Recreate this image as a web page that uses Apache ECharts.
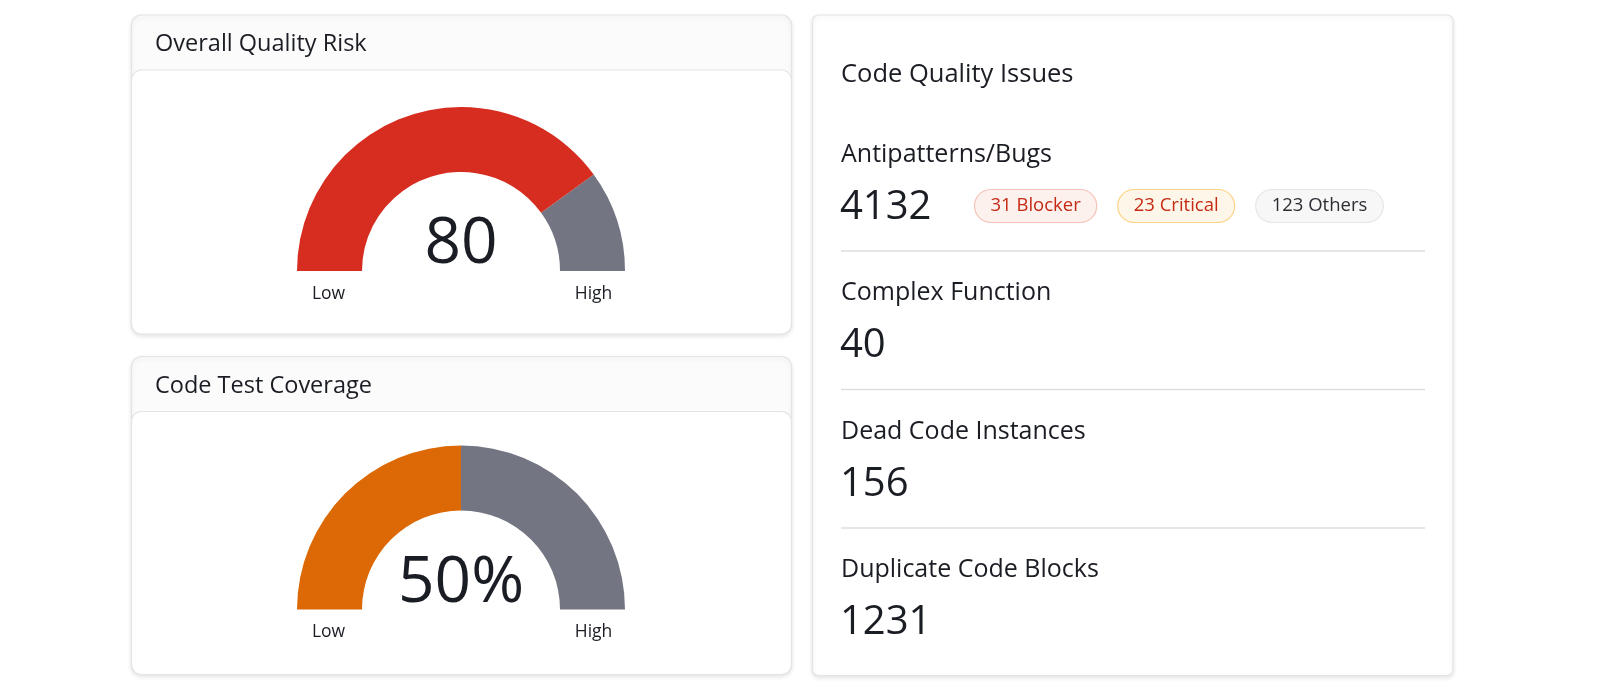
<!DOCTYPE html>
<html lang="en">
<head>
<meta charset="UTF-8" />
<title>Code Quality</title>
<script src="https://cdn.jsdelivr.net/npm/echarts@6/dist/echarts.min.js"></script>
<style>
  html, body { margin: 0; padding: 0; background: #fff; }
  #main { width: 1600px; height: 696px; }
</style>
</head>
<body>
<div id="main"></div>
<script>
// gauge cards
var gaugeTitles = ['Overall Quality Risk', 'Code Test Coverage'];
var gaugeValues = [80, 50];
var gaugeUnits = ['', '%'];
var gaugeColors = ['#d62d20', '#dc6905'];
var scaleLabels = ['Low', 'High'];

// issues card
var issuesTitle = 'Code Quality Issues';
var issueNames = ['Antipatterns/Bugs', 'Complex Function', 'Dead Code Instances', 'Duplicate Code Blocks'];
var issueCounts = [4132, 40, 156, 1231];
var severityLabels = ['Blocker', 'Critical', 'Others'];
var severityCounts = [31, 23, 123];

var FONT = '"Open Sans", Lato, sans-serif';
var TEXT = '#1b1d24';
var REST = '#737682';
var BORDER = '#e4e4e6';

var ctx = document.createElement('canvas').getContext('2d');
function textWidth(str, size) {
  ctx.font = size + 'px ' + FONT;
  return ctx.measureText(str).width;
}

var graphics = [];
var series = [];

// left column cards
var cardLeft = 131.5, cardRight = 791.5;
var cardTops = [15, 356.5], cardBottoms = [334, 674.5];
var gaugeCx = 461, gaugeR = 164, gaugeW = 65;
var gaugeCy = [271, 609.5];

gaugeTitles.forEach(function (title, i) {
  var top = cardTops[i], bottom = cardBottoms[i];
  graphics.push({
    type: 'rect', z: 0,
    shape: { x: cardLeft, y: top, width: cardRight - cardLeft, height: bottom - top, r: 10 },
    style: { fill: '#fbfbfb', stroke: BORDER, lineWidth: 1.2, shadowBlur: 4, shadowOffsetY: 2, shadowColor: 'rgba(0,0,0,0.10)' }
  });
  graphics.push({
    type: 'rect', z: 1,
    shape: { x: cardLeft, y: top + 55, width: cardRight - cardLeft, height: bottom - top - 55, r: 10 },
    style: { fill: '#ffffff', stroke: BORDER, lineWidth: 1.2 }
  });
  graphics.push({
    type: 'text', z: 10, x: 155, y: top + 29.5,
    style: { text: title, font: '23.5px ' + FONT, fill: TEXT, verticalAlign: 'middle' }
  });
  scaleLabels.forEach(function (lab, k) {
    graphics.push({
      type: 'text', z: 10,
      x: k === 0 ? gaugeCx - gaugeR + gaugeW / 2 - 1 : gaugeCx + gaugeR - gaugeW / 2 + 1,
      y: gaugeCy[i] + 23,
      style: { text: lab, font: '17.5px ' + FONT, fill: TEXT, textAlign: 'center', verticalAlign: 'middle' }
    });
  });

  series.push({
    type: 'gauge',
    center: [gaugeCx, gaugeCy[i]],
    radius: gaugeR,
    startAngle: 180,
    endAngle: 0,
    min: 0,
    max: 100,
    animation: false,
    axisLine: {
      lineStyle: { width: gaugeW, color: [[gaugeValues[i] / 100, gaugeColors[i]], [1, REST]] }
    },
    pointer: { show: false },
    axisTick: { show: false },
    splitLine: { show: false },
    axisLabel: { show: false },
    title: { show: false },
    detail: {
      offsetCenter: [0, -26],
      fontFamily: FONT,
      fontWeight: 'normal',
      fontSize: 64,
      color: TEXT,
      formatter: (function (u) { return function (v) { return v + u; }; })(gaugeUnits[i])
    },
    data: [{ value: gaugeValues[i] }]
  });
});

// right card
var rL = 812.5, rR = 1453, rT = 15, rB = 675.5;
graphics.push({
  type: 'rect', z: 0,
  shape: { x: rL, y: rT, width: rR - rL, height: rB - rT, r: 6 },
  style: { fill: '#ffffff', stroke: BORDER, lineWidth: 1.2, shadowBlur: 4, shadowOffsetY: 2, shadowColor: 'rgba(0,0,0,0.10)' }
});
graphics.push({
  type: 'text', z: 10, x: 841, y: 75,
  style: { text: issuesTitle, font: '25.5px ' + FONT, fill: TEXT, verticalAlign: 'middle' }
});

var nameY = [154.5, 293, 431.5, 569.5];
issueNames.forEach(function (name, i) {
  graphics.push({
    type: 'text', z: 10, x: 841, y: nameY[i],
    style: { text: name, font: '25px ' + FONT, fill: TEXT, verticalAlign: 'middle' }
  });
  graphics.push({
    type: 'text', z: 10, x: 840, y: nameY[i] + 53,
    style: { text: String(issueCounts[i]), font: '40px ' + FONT, fill: TEXT, verticalAlign: 'middle' }
  });
  if (i < issueNames.length - 1) {
    graphics.push({
      type: 'line', z: 10,
      shape: { x1: 841, y1: nameY[i] + 96.5, x2: 1425, y2: nameY[i] + 96.5 },
      style: { stroke: '#dedede', lineWidth: 1.5 }
    });
  }
});

// severity badges next to the first count
var badgeStyles = [
  { fill: '#fdf1ee', stroke: '#f6c4b8', color: '#c42a14' },
  { fill: '#fff6ea', stroke: '#fbd486', color: '#c42a14' },
  { fill: '#f7f7f7', stroke: '#e6e6e6', color: '#2b2d33' }
];
var bx = 841 + textWidth(String(issueCounts[0]), 40) + 42;
severityLabels.forEach(function (lab, k) {
  var txt = severityCounts[k] + ' ' + lab;
  var w = textWidth(txt, 18.5) + 32;
  graphics.push({
    type: 'rect', z: 5,
    shape: { x: bx, y: 189.5, width: w, height: 33, r: 16.5 },
    style: { fill: badgeStyles[k].fill, stroke: badgeStyles[k].stroke, lineWidth: 1.2 }
  });
  graphics.push({
    type: 'text', z: 10, x: bx + w / 2, y: 206,
    style: { text: txt, font: '18.5px ' + FONT, fill: badgeStyles[k].color, textAlign: 'center', verticalAlign: 'middle' }
  });
  bx += w + 21;
});

var myChart = echarts.init(document.getElementById('main'), null, { renderer: 'canvas' });
myChart.setOption({
  animation: false,
  backgroundColor: '#ffffff',
  graphic: { elements: graphics },
  series: series
});
</script>
</body>
</html>
